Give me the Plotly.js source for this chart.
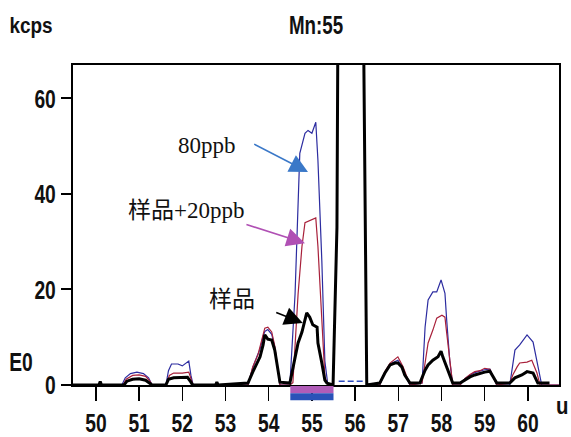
<!DOCTYPE html>
<html>
<head>
<meta charset="utf-8">
<script src="https://cdn.plot.ly/plotly-3.0.1.min.js"></script>
<style>
html,body{margin:0;padding:0;background:#fff;}
#chart{width:571px;height:437px;}
</style>
</head>
<body>
<div id="chart"></div>
<script>
// ---- data (mass u vs kcps) ----
var massTicks = [50, 51, 52, 53, 54, 55, 56, 57, 58, 59, 60];
var countTicks = [0, 20, 40, 60];

// 80ppb (blue)
var xBlue = [49.47, 50.6, 50.68, 50.8, 50.95, 51.1, 51.22, 51.3,
  51.62, 51.68, 51.75, 51.9, 52.0, 52.1, 52.15, 52.2, 52.25,
  53.52, 53.63, 53.73, 53.8, 53.87, 53.91, 53.98, 54.07, 54.14, 54.21, 54.26,
  54.49, 54.61, 54.72, 54.84, 54.91, 55.0, 55.09, 55.14, 55.23, 55.3, 55.37,
  55.49, 55.58, 55.61, 56.18, 56.22, 56.27,
  56.57, 56.69, 56.81, 56.92, 56.99, 57.08, 57.15, 57.27,
  57.55, 57.62, 57.69, 57.8, 57.89, 57.99, 58.08, 58.12, 58.19, 58.26,
  58.43, 58.54, 58.66, 58.77, 58.89, 59.0, 59.12, 59.19, 59.28,
  59.58, 59.7, 59.81, 59.98, 60.12, 60.23, 60.32, 60.72];
var yBlue = [0, 0, 1.5, 2.4, 2.7, 2.4, 1.5, 0,
  0, 3.0, 4.4, 4.4, 4.0, 4.6, 5.0, 2.0, 0,
  0, 3.6, 6.0, 7.5, 10.2, 11.2, 11.6, 10.6, 8.0, 3.8, 0,
  0, 19, 48.5, 52.7, 53.3, 52.7, 55, 47, 26, 5, 0,
  0, 33, 90, 90, 41, 0,
  0, 2.6, 4.4, 4.9, 5.2, 4.0, 2.2, 0,
  0.4, 12.1, 17.8, 19.5, 19.5, 22, 19.2, 13.6, 5.2, 0,
  0, 1.3, 2.1, 2.6, 2.9, 3.2, 3.3, 2.0, 0,
  0, 7.3, 8.4, 10.5, 9.0, 3.8, 0, 0];

// 样品+20ppb (red)
var xRed = [49.47, 50.63, 50.7, 50.85, 51.0, 51.15, 51.25, 51.3,
  51.63, 51.7, 51.8, 52.0, 52.15, 52.22, 52.25,
  53.52, 53.63, 53.75, 53.87, 53.91, 53.98, 54.07, 54.14, 54.21, 54.26,
  54.49, 54.56, 54.68, 54.77, 54.84, 54.95, 55.09, 55.14, 55.23, 55.3, 55.37,
  55.49, 55.58, 55.61, 56.18, 56.22, 56.27,
  56.57, 56.69, 56.81, 56.99, 57.11, 57.2, 57.27,
  57.55, 57.62, 57.69, 57.8, 57.89, 58.01, 58.08, 58.12, 58.19, 58.26,
  58.43, 58.54, 58.66, 58.77, 58.89, 59.0, 59.12, 59.19, 59.28,
  59.58, 59.65, 59.75, 59.81, 59.98, 60.09, 60.21, 60.28, 60.72];
var yRed = [0, 0, 1.2, 2.0, 2.1, 1.8, 0.8, 0,
  0, 2.0, 2.5, 2.5, 2.7, 1.0, 0,
  0, 3.8, 6.3, 10.9, 11.9, 12.1, 11.1, 8.2, 3.9, 0,
  0, 0.5, 19, 29, 34, 34.5, 35, 29, 12, 1.7, 0,
  0, 33, 90, 90, 41, 0,
  0, 2.8, 4.6, 5.9, 3.8, 1.5, 0,
  0.4, 5.2, 8.8, 11.5, 14, 14.6, 14.2, 10.9, 5.2, 0,
  0, 1.3, 2.2, 2.8, 3.0, 3.5, 3.3, 2.0, 0,
  0.4, 2.1, 3.8, 4.6, 4.8, 5.2, 2.5, 0, 0];

// 样品 (black)
var xBlack = [49.47, 50.07, 50.1, 50.13,
  50.65, 50.72, 50.85, 51.0, 51.15, 51.25, 51.3,
  51.62, 51.68, 51.8, 52.0, 52.12, 52.2, 52.24,
  52.77, 52.8, 52.83,
  53.52, 53.63, 53.73, 53.8, 53.87, 53.91, 53.98, 54.07, 54.14, 54.21, 54.26,
  54.49, 54.56, 54.68, 54.77, 54.88, 54.95, 55.02, 55.12, 55.14, 55.23, 55.3, 55.35,
  55.49, 55.58, 55.61, 56.18, 56.22, 56.27,
  56.57, 56.69, 56.81, 56.92, 56.99, 57.08, 57.15, 57.27,
  57.5, 57.62, 57.69, 57.8, 57.92, 57.99, 58.03, 58.15, 58.26,
  58.43, 58.54, 58.66, 58.77, 58.89, 59.0, 59.12, 59.19, 59.28,
  59.58, 59.7, 59.86, 59.98, 60.12, 60.23, 60.5];
var yBlack = [0, 0, 0.7, 0,
  0, 0.8, 1.2, 1.3, 1.0, 0.4, 0,
  0, 1.2, 1.5, 1.5, 1.6, 0.6, 0,
  0, 0.6, 0,
  0.4, 2.7, 4.8, 5.9, 8.4, 10.5, 9.6, 9.4, 7.3, 3.8, 0.6,
  0.4, 3.8, 8.8, 11.1, 15.1, 14.2, 12.6, 12.1, 8.8, 4.6, 1.0, 0.4,
  0, 33, 90, 90, 41, 0,
  0.4, 2.5, 4.2, 4.6, 4.6, 3.8, 2.1, 0.4,
  0.4, 3.1, 4.2, 5.2, 5.9, 7.1, 5.9, 3.1, 0.4,
  0.4, 1.0, 1.7, 2.1, 2.5, 2.7, 2.9, 1.7, 0.4,
  0.4, 1.5, 2.1, 2.8, 2.5, 0.4, 0.4];

// dashed baseline segment inside the Mn peak
var xDash = [55.62, 56.18];
var yDash = [0.8, 0.8];

// integration window of the Mn peak
var windowX = [54.5, 55.5];

var traces = [
  {x: xBlue, y: yBlue, type: 'scatter', mode: 'lines', name: '80ppb',
   line: {color: '#2c2ca0', width: 1.2}, hoverinfo: 'skip'},
  {x: xRed, y: yRed, type: 'scatter', mode: 'lines', name: '样品+20ppb',
   line: {color: '#a8203a', width: 1.2}, hoverinfo: 'skip'},
  {x: xDash, y: yDash, type: 'scatter', mode: 'lines', name: 'dash',
   line: {color: '#2c4cc0', width: 1.5, dash: '6px,3px'}, hoverinfo: 'skip'},
  {x: xBlack, y: yBlack, type: 'scatter', mode: 'lines', name: '样品',
   line: {color: '#000000', width: 3}, hoverinfo: 'skip'}
];

var sansFam = '"Liberation Sans", Arial, sans-serif';
var tickFont = {family: sansFam, size: 26, color: '#111', weight: 'bold'};
var annFont = {family: '"Liberation Serif", "Noto Sans CJK SC", serif', size: 23, color: '#111'};

var layout = {
  width: 571, height: 437,
  margin: {l: 73, r: 12, t: 65, b: 52, pad: 0},
  paper_bgcolor: '#fff', plot_bgcolor: '#fff',
  showlegend: false,
  title: {text: 'Mn:55', xref: 'paper', x: 0.5, xanchor: 'center', y: 0.943, yanchor: 'middle',
          font: {family: sansFam, size: 25, color: '#111', weight: 'bold'}},
  xaxis: {
    range: [49.47, 60.72], tickvals: massTicks, ticktext: massTicks.map(String),
    ticks: 'outside', ticklen: 14, tickwidth: 1.5, tickcolor: '#000',
    showline: true, mirror: true, linecolor: '#000', linewidth: 2,
    showgrid: false, zeroline: false, tickfont: tickFont
  },
  yaxis: {
    range: [0, 67], tickvals: countTicks, ticktext: countTicks.map(String),
    ticks: 'outside', ticklen: 10, tickwidth: 2, tickcolor: '#000',
    showline: true, mirror: true, linecolor: '#000', linewidth: 2,
    showgrid: false, zeroline: false, tickfont: tickFont
  },
  shapes: [
    {type: 'rect', xref: 'x', yref: 'paper', x0: windowX[0], x1: windowX[1], y0: -0.026, y1: -0.003,
     fillcolor: '#b05cb8', line: {width: 0}, layer: 'above'},
    {type: 'rect', xref: 'x', yref: 'paper', x0: windowX[0], x1: windowX[1], y0: -0.048, y1: -0.026,
     fillcolor: '#2a52b8', line: {width: 0}, layer: 'above'}
  ],
  annotations: [
    {text: 'kcps', xref: 'paper', yref: 'paper', x: -0.086, y: 1.122, showarrow: false,
     xanchor: 'center', yanchor: 'middle', font: {family: sansFam, size: 22, color: '#111', weight: 'bold'}},
    {text: 'E0', xref: 'paper', yref: 'paper', x: -0.107, y: 0.072, showarrow: false,
     xanchor: 'center', yanchor: 'middle', font: tickFont},
    {text: 'u', xref: 'paper', yref: 'paper', x: 1.008, y: -0.0625, showarrow: false,
     xanchor: 'center', yanchor: 'middle', font: {family: sansFam, size: 24, color: '#111', weight: 'bold'}},
    {text: '80ppb', x: 52.57, y: 50.2, showarrow: false, xanchor: 'center', yanchor: 'middle', font: annFont},
    {text: '样品+20ppb', x: 52.08, y: 36.6, showarrow: false, xanchor: 'center', yanchor: 'middle', font: annFont},
    {text: '样品', x: 53.15, y: 17.8, showarrow: false, xanchor: 'center', yanchor: 'middle', font: annFont},
    {text: '', x: 54.91, y: 44.6, ax: 53.63, ay: 50.6, axref: 'x', ayref: 'y', showarrow: true,
     arrowhead: 2, arrowsize: 2.3, arrowwidth: 1.6, arrowcolor: '#3a78c8', standoff: 0},
    {text: '', x: 54.84, y: 29.7, ax: 53.45, ay: 33.7, axref: 'x', ayref: 'y', showarrow: true,
     arrowhead: 2, arrowsize: 2.3, arrowwidth: 1.6, arrowcolor: '#b050b4', standoff: 0},
    {text: '', x: 54.79, y: 13.0, ax: 54.14, ay: 15.3, axref: 'x', ayref: 'y', showarrow: true,
     arrowhead: 2, arrowsize: 2.3, arrowwidth: 1.6, arrowcolor: '#000', standoff: 0}
  ]
};

function condenseEl(el, factor) {
  var w = el.getComputedTextLength();
  if (w > 0) {
    el.setAttribute('textLength', (w * factor).toFixed(2));
    el.setAttribute('lengthAdjust', 'spacingAndGlyphs');
  }
}
function condense(sel, factor) {
  document.querySelectorAll(sel).forEach(function (el) { condenseEl(el, factor); });
}

Plotly.newPlot('chart', traces, layout, {staticPlot: true, displayModeBar: false}).then(function () {
  condense('.xtick text, .ytick text', 0.74);
  condense('.gtitle', 0.75);
  document.querySelectorAll('.annotation-text').forEach(function (el) {
    var t = el.textContent;
    if (t === 'kcps') condenseEl(el, 0.86);
    else if (t === 'E0') condenseEl(el, 0.74);
    else if (t === 'u') condenseEl(el, 0.85);
  });
});
</script>
</body>
</html>
